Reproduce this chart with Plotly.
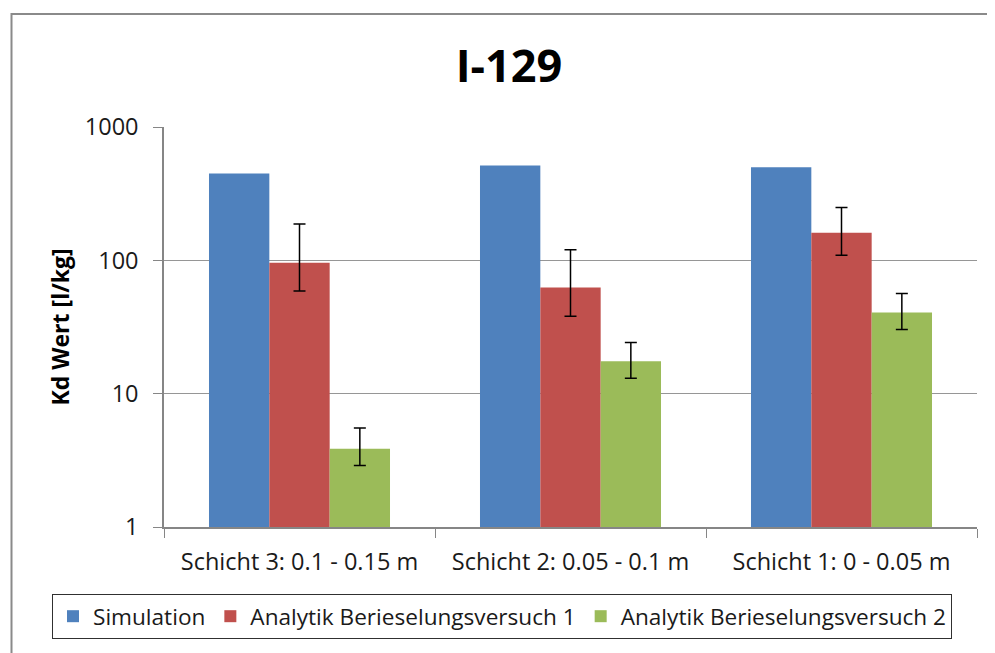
import plotly.graph_objects as go

categories = ["Schicht 3: 0.1 - 0.15 m", "Schicht 2: 0.05 - 0.1 m", "Schicht 1: 0 - 0.05 m"]
series_names = ["Simulation", "Analytik Berieselungsversuch 1", "Analytik Berieselungsversuch 2"]

simulation = [448, 514, 499]

analytik1 = [96, 62.5, 161]
analytik1_upper = [187, 120, 249]
analytik1_lower = [59, 38, 109]

analytik2 = [3.87, 17.5, 40.6]
analytik2_upper = [5.53, 24.2, 56.3]
analytik2_lower = [2.89, 13.05, 30.3]

y_tickvals = [1, 10, 100, 1000]
y_ticktext = ["1", "10", "100", "1000"]

colors = ["#4F81BD", "#C0504D", "#9BBB59"]
FONT = "Open Sans"


def err(vals, up, lo):
    return dict(
        type="data",
        symmetric=False,
        array=[u - v for u, v in zip(up, vals)],
        arrayminus=[v - l for v, l in zip(vals, lo)],
        color="black",
        thickness=1.5,
        width=6,
    )


fig = go.Figure()
fig.add_trace(go.Bar(name=series_names[0], x=categories, y=simulation,
                     marker=dict(color=colors[0], line=dict(width=0))))
fig.add_trace(go.Bar(name=series_names[1], x=categories, y=analytik1,
                     marker=dict(color=colors[1], line=dict(width=0)),
                     error_y=err(analytik1, analytik1_upper, analytik1_lower)))
fig.add_trace(go.Bar(name=series_names[2], x=categories, y=analytik2,
                     marker=dict(color=colors[2], line=dict(width=0)),
                     error_y=err(analytik2, analytik2_upper, analytik2_lower)))

# page body has an 8px default margin: work in figure coordinates = screen - 8
OFF = 8
W, H = 995, 653
L, R, T, B = 164 - OFF, 977 - OFF, 127 - OFF, 527 - OFF


def sx(p):  # screen x -> paper x
    return (p - OFF - L) / (R - L)


def sy(p):  # screen y -> paper y
    return (B - (p - OFF)) / (B - T)


fig.update_layout(
    width=W, height=H,
    margin=dict(l=L, r=W - R, t=T, b=H - B, pad=0, autoexpand=False),
    paper_bgcolor="white",
    plot_bgcolor="white",
    barmode="group",
    bargap=0.332,
    bargroupgap=0,
    font=dict(family=FONT, color="#1a1a1a"),
    title=dict(text="<b>I-129</b>", x=(509 - OFF) / W, xref="container",
               xanchor="center", y=1 - (66 - OFF) / H, yref="container", yanchor="middle",
               font=dict(family=FONT, size=45, color="black")),
    showlegend=True,
    legend=dict(
        orientation="h",
        x=sx(52), xanchor="left",
        y=sy(594), yanchor="top",
        xref="paper", yref="paper",
        bordercolor="#303030", borderwidth=1,
        font=dict(family=FONT, size=22.6, color="#1a1a1a"),
        itemwidth=30,
        traceorder="normal",
    ),
    xaxis=dict(
        type="category",
        showline=True, linecolor="#868686", linewidth=1.5,
        ticks="outside", tickson="boundaries", ticklen=9, tickcolor="#868686",
        tickfont=dict(family=FONT, size=23.5, color="#1a1a1a"),
        ticklabelstandoff=13,
        showgrid=False,
    ),
    yaxis=dict(
        type="log",
        range=[0, 3],
        tickvals=y_tickvals, ticktext=y_ticktext,
        showline=True, linecolor="#868686", linewidth=1.5,
        ticks="outside", ticklen=9, tickcolor="#868686",
        tickfont=dict(family=FONT, size=23.5, color="#1a1a1a"),
        ticklabelstandoff=10,
        showgrid=True, gridcolor="#969696", gridwidth=1.2,
        zeroline=False,
        title=dict(text="<b>Kd Wert [l/kg]</b>", standoff=9,
                   font=dict(family=FONT, size=23, color="black")),
    ),
    shapes=[dict(type="rect", xref="paper", yref="paper",
                 x0=sx(11.5), x1=sx(1030), y0=sy(690), y1=sy(14),
                 line=dict(color="#8a8a8a", width=2), fillcolor="rgba(0,0,0,0)",
                 layer="below")],
)

fig.write_html("out.html")
